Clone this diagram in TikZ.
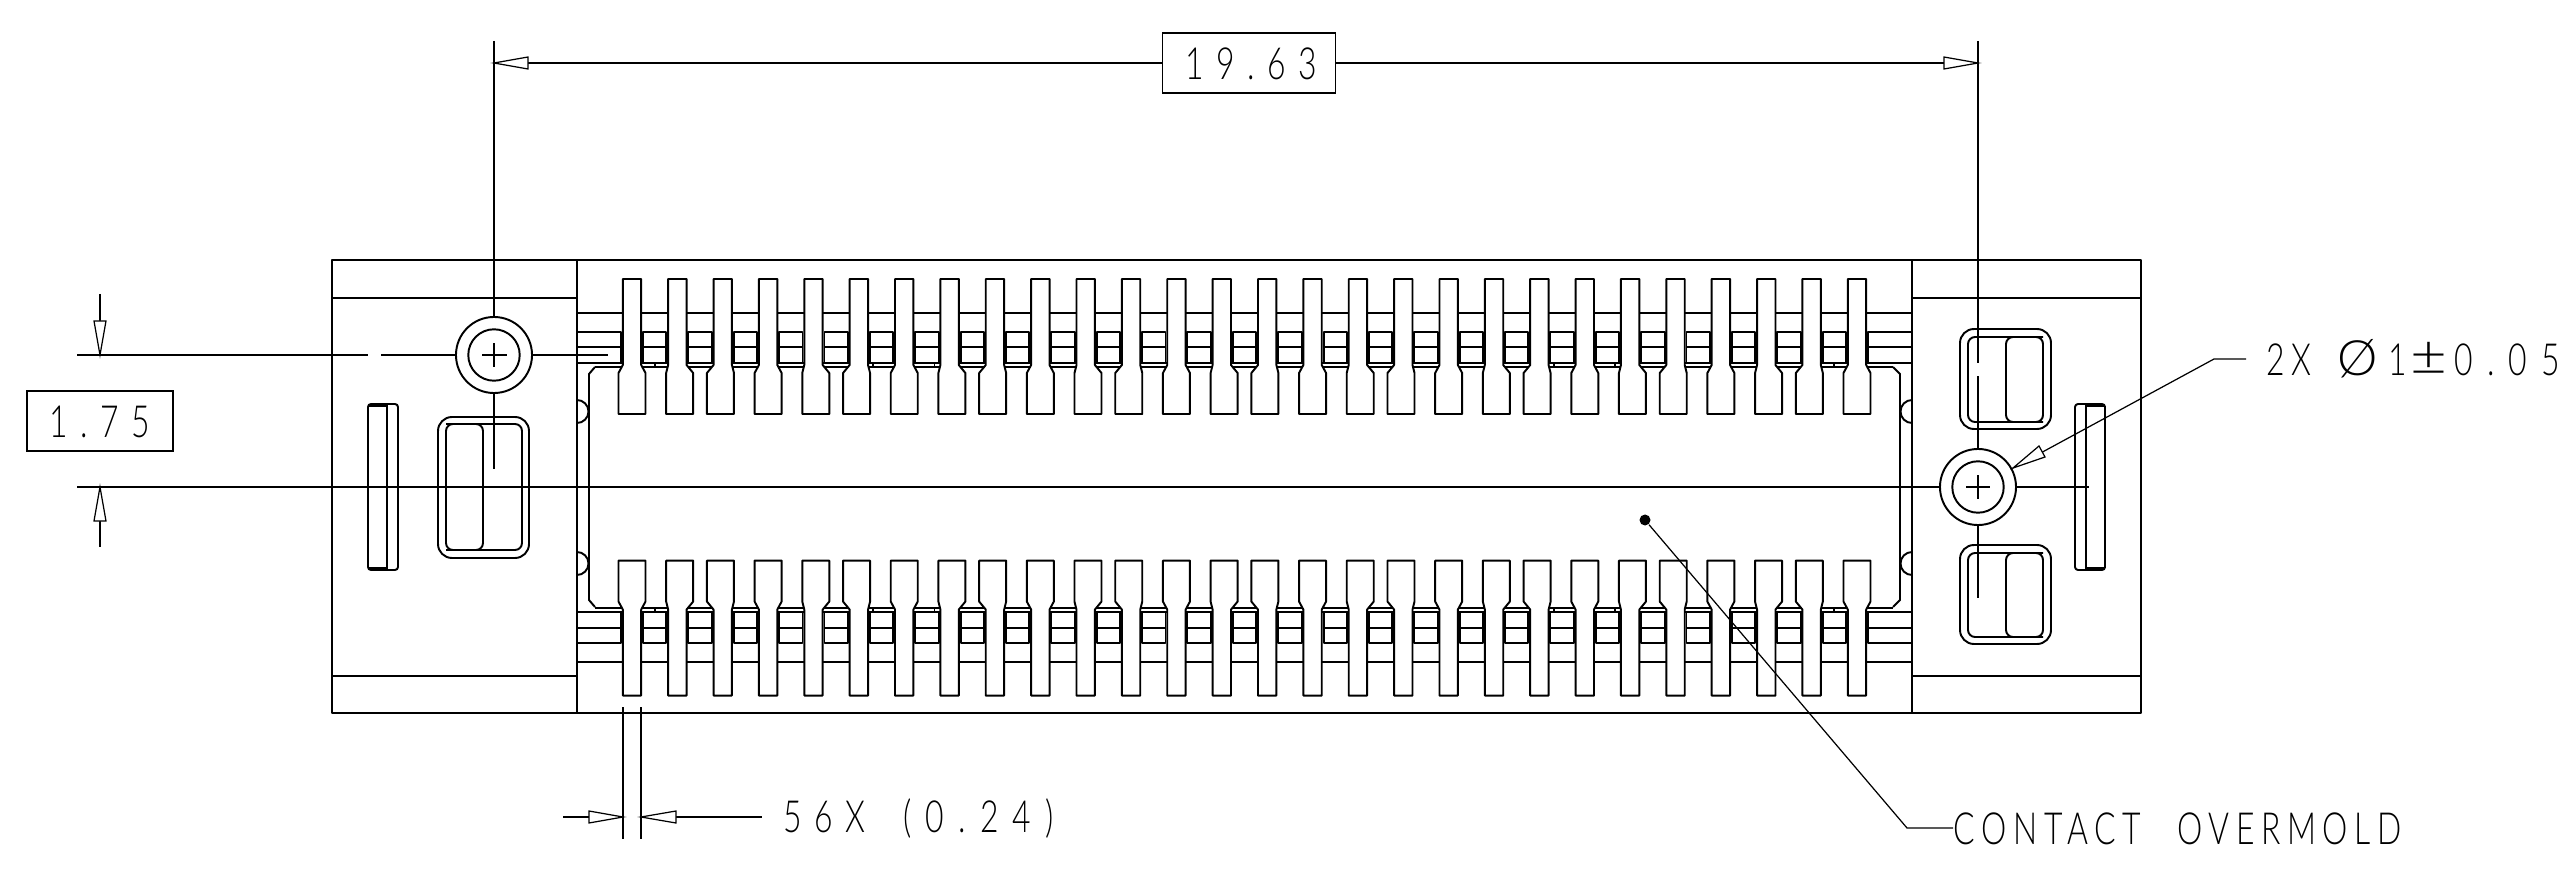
\documentclass[tikz,border=0pt]{standalone}
\usepackage{fontspec}
\newfontfamily\cadfont[FakeStretch=0.72,LetterSpace=15]{Lato Light}
\newfontfamily\caddigits[FakeStretch=0.72,LetterSpace=28]{Lato Light}
\newfontfamily\cadwide[FakeStretch=0.72,LetterSpace=32]{Lato Light}
\tikzset{
  part/.style={line width=0.55pt, line join=round},
  thin line/.style={line width=0.35pt},
  dimbox/.style={draw, line width=0.4pt, fill=white, inner sep=0pt, minimum width=1.73cm, minimum height=0.6cm},
  dimtext/.style={inner sep=0pt, anchor=base west, font=\cadfont\fontsize{12.6}{14}\selectfont},
  dimhead/.style={line width=0.35pt, fill=white},
}
\newcommand{\contactrow}{
  \draw[part] (577,313) -- (1912,313);
  \draw[part] (577,332) -- (621,332) -- (621,363) -- (577,363);
  \draw[part] (577,347) -- (621,347);
  \draw[part] (1912,332) -- (1868,332) -- (1868,363) -- (1912,363);
  \draw[part] (1912,347) -- (1868,347);
  \draw[part] (595,367) -- (1893,367);
  \draw[part] (621,363) -- (1868,363);
  \foreach \i in {0,...,26} {
    \pgfmathsetmacro\x{632+45.37*\i}
    \draw[part] (\x+11,332) rectangle (\x+34.4,363);
    \draw[part] (\x+11,347) -- (\x+34.4,347);
  }
  \foreach \x in {655,873,934.5,1554,1615,1834} {
    \draw[part] (\x,363) -- (\x,367);
  }
  \foreach \i in {0,...,27} {
    \pgfmathsetmacro\x{632+45.37*\i}
    \pgfmathsetmacro\d{mod(\i,3)==0 ? 0 : (mod(\i,3)==1 ? 2.3 : -2.3)}
    \draw[part, fill=white] (\x-9.2,279) -- (\x+9.2,279) -- (\x+9.2,365) -- (\x+\d+13.5,373)
      -- (\x+\d+13.5,414) -- (\x+\d-13.5,414) -- (\x+\d-13.5,373) -- (\x-9.2,365) -- cycle;
  }
}
\begin{document}
\begin{tikzpicture}[x=0.01cm, y=-0.01cm]
\useasboundingbox (0,0) rectangle (2575,876);

% body
\draw[part] (332,260) rectangle (2141,713);
\draw[part] (577,260) -- (577,713);
\draw[part] (1912,260) -- (1912,713);
\draw[part] (332,298) -- (577,298);
\draw[part] (1912,298) -- (2141,298);
\draw[part] (332,676) -- (577,676);
\draw[part] (1912,676) -- (2141,676);

% contacts
\contactrow
\begin{scope}[y=0.01cm, yshift=-9.74cm]
\contactrow
\end{scope}

% overmold
\draw[part] (595,367) -- (589,374) -- (589,600) -- (595,607);
\draw[part] (1893,367) -- (1900,374) -- (1900,600) -- (1893,607);
\draw[part] (577,400) arc[start angle=-90, end angle=90, radius=11.5];
\draw[part] (577,552) arc[start angle=-90, end angle=90, radius=11.5];
\draw[part] (1912,400) arc[start angle=270, end angle=90, radius=11.5];
\draw[part] (1912,552) arc[start angle=270, end angle=90, radius=11.5];

% slots
\draw[part, rounded corners=0.3mm] (368,404) rectangle (398,570);
\draw[part] (387,404) -- (387,570);
\draw[part] (368,406) -- (387,406);
\draw[part] (368,568) -- (387,568);
\draw[part, rounded corners=0.3mm] (2075,404) rectangle (2105,570);
\draw[part] (2086,404) -- (2086,570);
\draw[part] (2086,406) -- (2105,406);
\draw[part] (2086,568) -- (2105,568);

% latches
\draw[part, rounded corners=1.4mm] (438,417) rectangle (529,558);
\draw[part, rounded corners=0.7mm] (446,424) rectangle (522,550);
\draw[part, rounded corners=0.7mm] (446,424) -- (483,424) -- (483,550) -- (446,550);
\draw[part, rounded corners=1.4mm] (1960,329) rectangle (2051,429);
\draw[part, rounded corners=0.7mm] (1968,337) rectangle (2043,422);
\draw[part, rounded corners=0.7mm] (2043,337) -- (2006,337) -- (2006,422) -- (2043,422);
\draw[part, rounded corners=1.4mm] (1960,545) rectangle (2051,644);
\draw[part, rounded corners=0.7mm] (1968,553) rectangle (2043,637);
\draw[part, rounded corners=0.7mm] (2043,553) -- (2006,553) -- (2006,637) -- (2043,637);

% holes
\node[draw, circle, part, minimum size=0.76cm, inner sep=0pt] (holeL) at (494,355) {};
\node[draw, circle, part, minimum size=0.514cm, inner sep=0pt] (boreL) at (494,355) {};
\node[draw, circle, part, minimum size=0.76cm, inner sep=0pt] (holeR) at (1978,487) {};
\node[draw, circle, part, minimum size=0.514cm, inner sep=0pt] (boreR) at (1978,487) {};

% center lines
\coordinate (topL) at (494,41);
\coordinate (topR) at (1978,41);
\draw[thin line] (topL) -- (holeL.north);
\draw[thin line] (holeL.south) -- (494,469);
\draw[thin line] (494,343) -- (494,367);
\draw[thin line] (482,355) -- (507,355);
\draw[thin line] (77,355) -- (368,355);
\draw[thin line] (381,355) -- (holeL.west);
\draw[thin line] (holeL.east) -- (608,355);
\draw[thin line] (topR) -- (1978,363);
\draw[thin line] (1978,376) -- (holeR.north);
\draw[thin line] (holeR.south) -- (1978,598);
\draw[thin line] (1966,487) -- (1990,487);
\draw[thin line] (1978,475) -- (1978,499);
\draw[thin line] (77,487) -- (holeR.west);
\draw[thin line] (holeR.east) -- (2089,487);

% 19.63
\node[dimbox] (pitch) at (1249,63) {};
\node[dimtext] at (1185,80) {\caddigits 19.63};
\draw[thin line] (494,63) -- (pitch);
\draw[thin line] (pitch) -- (1978,63);
\draw[dimhead] (494,63) -- (528,57) -- (528,69) -- cycle;
\draw[dimhead] (1978,63) -- (1944,57) -- (1944,69) -- cycle;

% 1.75
\node[dimbox, minimum width=1.46cm] (offset) at (100,421) {};
\node[dimtext] at (49,437) {\caddigits 1.75};
\draw[thin line] (100,294) -- (100,355);
\draw[thin line] (100,487) -- (100,547);
\draw[dimhead] (100,355) -- (94,321) -- (106,321) -- cycle;
\draw[dimhead] (100,487) -- (94,521) -- (106,521) -- cycle;

% 56X
\draw[thin line] (623,707) -- (623,839);
\draw[thin line] (641,707) -- (641,839);
\draw[thin line] (563,817) -- (623,817);
\draw[thin line] (641,817) -- (762,817);
\draw[dimhead] (623,817) -- (589,811) -- (589,823) -- cycle;
\draw[dimhead] (641,817) -- (676,811) -- (676,823) -- cycle;
\node[dimtext] (width) at (783,832) {{\caddigits 56X}\hspace{6.5pt} {\cadwide(0.24)}};

% 2X
\node[dimtext] (dia) at (2266,376) {2X\hspace{3pt} \scalebox{1.6}[1.1]{Ø}\hspace{3pt}{\caddigits 1}\hspace{1pt}\scalebox{2}[1.3]{±}\hspace{2pt}{\cadwide 0.05}};
\coordinate (diaEnd) at (2246,359);
\coordinate (diaKnee) at (2214,359);
\draw[thin line] (diaEnd) -- (diaKnee) -- (2013,468);
\draw[dimhead] (2013,468) -- (2039,446) -- (2045,457) -- cycle;

% overmold leader
\node[dimtext] (mold) at (1953,844) {CONTACT\hspace{6pt} OVERMOLD};
\coordinate (moldKnee) at (1907,828);
\node[circle, fill=black, inner sep=0pt, minimum size=0.11cm] (dot) at (1645,520) {};
\draw[thin line] (dot) -- (moldKnee) -- (moldKnee -| mold.west);

\end{tikzpicture}
\end{document}
